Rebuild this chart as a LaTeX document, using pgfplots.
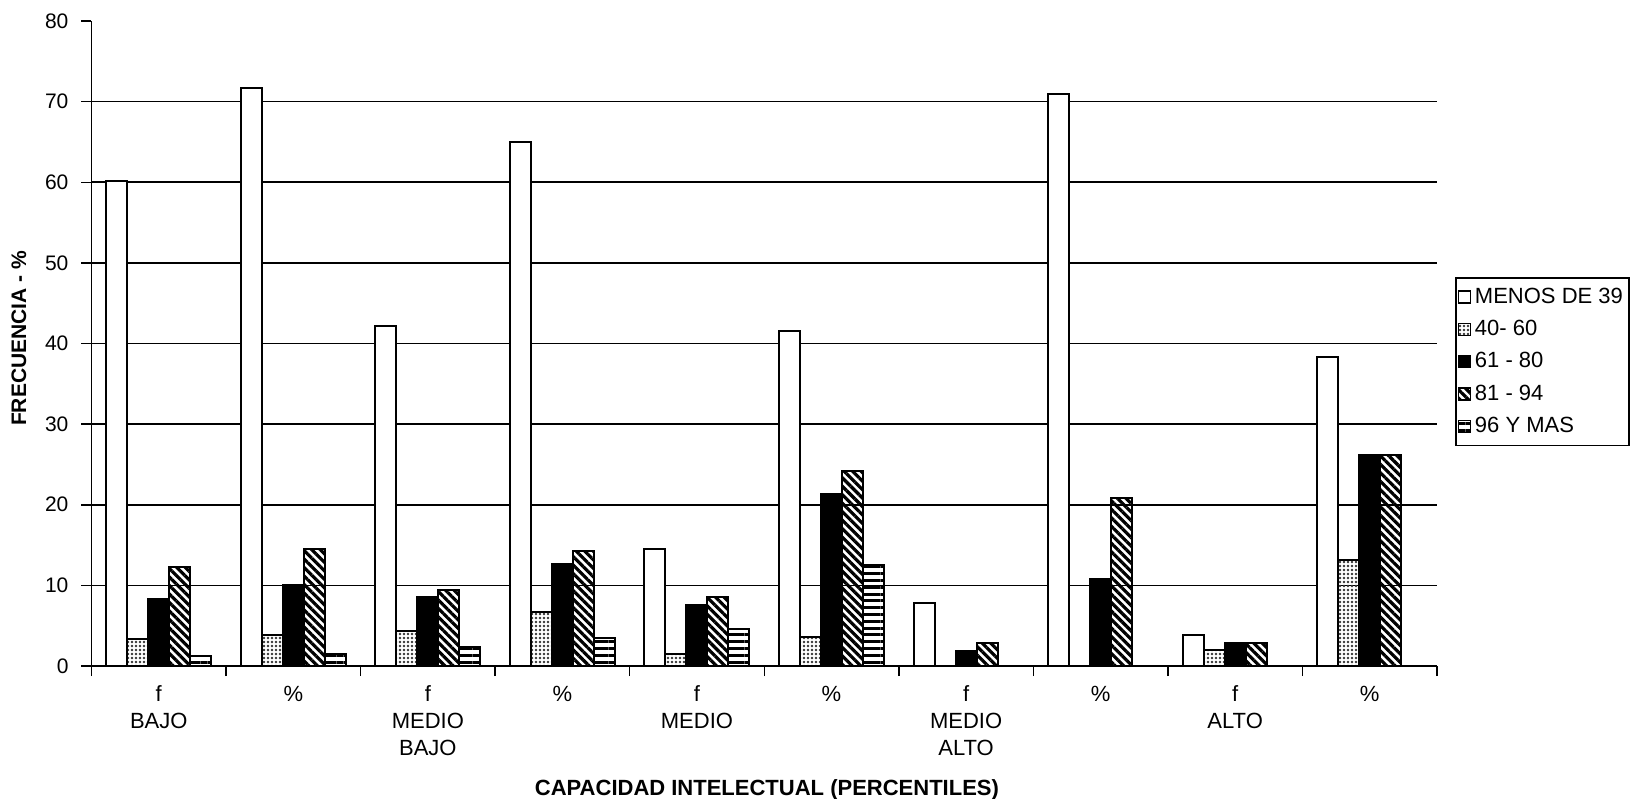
\documentclass[border=0pt]{standalone}
\usepackage{fontspec}
\setmainfont{Liberation Sans}
\usepackage{pgfplots}
\pgfplotsset{compat=1.18}
\usetikzlibrary{patterns,patterns.meta}

\begin{document}
\begin{tikzpicture}[font=\fontsize{10.5}{12}\selectfont]
\begin{axis}[
  scale only axis,
  width=672.75pt, height=322.5pt,
  ybar=0pt, bar width=10.5pt,
  xmin=-0.5, xmax=9.5, ymin=0, ymax=80,
  axis x line*=bottom, axis y line*=left,
  axis line style={line width=0.75pt, -},
  tick align=outside,
  major tick length=5pt,
  tick style={black, line width=0.75pt},
  xtick={-0.5,0.5,...,9.5},
  xticklabels={},
  extra x ticks={0,1,...,9},
  extra x tick labels={f\\BAJO, \%, f\\MEDIO\\BAJO, \%, f\\MEDIO, \%, f\\MEDIO\\ALTO, \%, f\\ALTO, \%},
  extra x tick style={major tick length=0pt, tick label style={align=center, font=\fontsize{11}{13.3}\selectfont, yshift=-6.5pt}},
  ytick={0,10,...,70},
  extra y ticks={80},
  extra y tick style={grid=none},
  ymajorgrids,
  grid style={black, line width=0.8pt},
  yticklabel style={xshift=-3pt},
  /pgf/number format/assume math mode=true,
  xlabel={\bfseries CAPACIDAD INTELECTUAL (PERCENTILES)},
  xlabel style={at={(axis description cs:0.502,0)}, anchor=center, yshift=-62pt, font=\fontsize{11}{13}\selectfont},
  ylabel={\bfseries FRECUENCIA - \%},
  ylabel style={at={(axis description cs:-0.0539,0.508)}, anchor=center, font=\fontsize{10.5}{12}\selectfont},
  legend style={at={(1.0134,0.603)}, anchor=north west, draw=black, line width=0.75pt,
    font=\fontsize{11}{13}\selectfont, row sep=3pt, inner xsep=1pt, inner ysep=3pt,
    cells={anchor=west}},
  legend image code/.code={\draw[#1, line width=0.6pt] (0pt,-3pt) rectangle (6pt,3pt);},
  every axis plot/.append style={draw=black, line width=1pt},
]
\addplot[fill=white] coordinates {(0,60.2) (1,71.7) (2,42.2) (3,65.0) (4,14.5) (5,41.5) (6,7.8) (7,70.9) (8,3.85) (9,38.3)};
\addplot[pattern={Dots[distance=2pt, radius=0.65pt]}, pattern color=black!80] coordinates {(0,3.3) (1,3.85) (2,4.4) (3,6.7) (4,1.45) (5,3.6) (6,0) (7,0) (8,2.0) (9,13.1)};
\addplot[fill=black] coordinates {(0,8.3) (1,10.0) (2,8.5) (3,12.7) (4,7.6) (5,21.3) (6,1.8) (7,10.8) (8,2.9) (9,26.2)};
\addplot[pattern={Lines[angle=-45, distance=3pt, line width=1.6pt]}, pattern color=black] coordinates {(0,12.3) (1,14.5) (2,9.4) (3,14.3) (4,8.6) (5,24.2) (6,2.8) (7,20.8) (8,2.9) (9,26.2)};
\addplot[pattern={Lines[angle=0, distance=3.4pt, line width=1.5pt]}, pattern color=black] coordinates {(0,1.24) (1,1.5) (2,2.4) (3,3.5) (4,4.55) (5,12.5) (6,0) (7,0) (8,0) (9,0)};
\legend{MENOS DE 39, 40- 60, 61 - 80, 81 - 94, 96 Y MAS}
\coordinate (o) at (rel axis cs:0,0);
\end{axis}
\pgfresetboundingbox
\path (o) ++(-45.75pt,-66pt) rectangle ++(815.5pt,399pt);
\end{tikzpicture}
\end{document}
